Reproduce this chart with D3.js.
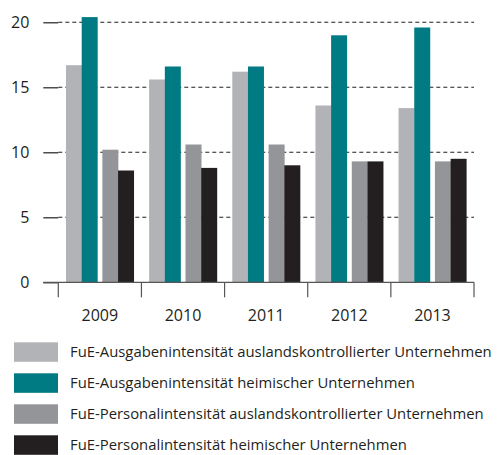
<!DOCTYPE html>
<html>
<head>
<meta charset="utf-8">
<script src="https://cdn.jsdelivr.net/npm/d3@7"></script>
<style>
  html, body { margin: 0; padding: 0; background: #fff; }
  svg { display: block; }
  text { font-family: "Open Sans", "DejaVu Sans", sans-serif; fill: #231f20; }
</style>
</head>
<body>
<svg id="chart" width="499" height="455"></svg>
<script>
const years = ["2009", "2010", "2011", "2012", "2013"];
const seriesNames = [
  "FuE-Ausgabenintensität auslandskontrollierter Unternehmen",
  "FuE-Ausgabenintensität heimischer Unternehmen",
  "FuE-Personalintensität auslandskontrollierter Unternehmen",
  "FuE-Personalintensität heimischer Unternehmen"
];
const ausgabenAusland = [16.7, 15.6, 16.2, 13.6, 13.4];
const ausgabenHeimisch = [20.4, 16.6, 16.6, 19.0, 19.6];
const personalAusland = [10.2, 10.6, 10.6, 9.3, 9.3];
const personalHeimisch = [8.6, 8.8, 9.0, 9.3, 9.5];
const yTicks = [0, 5, 10, 15, 20];
const colors = ["#b2b3b6", "#007a83", "#939598", "#231f20"];

const seriesValues = [ausgabenAusland, ausgabenHeimisch, personalAusland, personalHeimisch];

const svg = d3.select("#chart");

const y = d3.scaleLinear().domain([0, 20]).range([282.3, 22.3]);
const x = d3.scaleBand().domain(years).range([58.3, 474]).paddingInner(0).paddingOuter(0);
const bw = x.bandwidth();
const pad = 7.7;
const pair = d3.scaleBand().domain([0, 1]).range([pad, bw - pad]).paddingInner(0.137).paddingOuter(0);
const inPair = d3.scaleBand().domain([0, 1]).range([0, pair.bandwidth()]);

// gridlines (dashed)
const grid = svg.append("g");
yTicks.filter(t => t > 0).forEach(t => {
  grid.append("line")
    .attr("x1", 58.3).attr("x2", 474)
    .attr("y1", y(t)).attr("y2", y(t))
    .attr("stroke", "#231f20").attr("stroke-width", 1.1)
    .attr("stroke-dasharray", "4,3");
});

// y axis
const yAxis = d3.axisLeft(y).tickValues(yTicks).tickSize(15).tickPadding(14).tickFormat(d3.format("d"));
const yg = svg.append("g").attr("transform", "translate(58.3,0)").call(yAxis);
yg.select(".domain").remove();
yg.selectAll(".tick line").attr("stroke", "#231f20").attr("stroke-width", 1.2);
yg.selectAll(".tick text").style("font-size", "16px").attr("fill", "#3a3536")
  .style("font-family", "'Open Sans', sans-serif");

// bars
seriesValues.forEach((vals, si) => {
  const p = Math.floor(si / 2), k = si % 2;
  svg.append("g").selectAll("rect").data(vals).join("rect")
    .attr("x", (d, i) => x(years[i]) + pair(p) + inPair(k))
    .attr("width", inPair.bandwidth() + 0.3)
    .attr("y", d => y(d))
    .attr("height", d => y(0) - y(d))
    .attr("fill", colors[si]);
});

// baseline
svg.append("line")
  .attr("x1", 43.3).attr("x2", 474)
  .attr("y1", y(0)).attr("y2", y(0))
  .attr("stroke", "#555").attr("stroke-width", 1.2);

// x axis ticks at band boundaries
const bounds = years.map(yy => x(yy)).concat([x.range()[1]]);
svg.append("g").selectAll("line").data(bounds).join("line")
  .attr("x1", d => d).attr("x2", d => d)
  .attr("y1", y(0)).attr("y2", y(0) + 15)
  .attr("stroke", "#555").attr("stroke-width", 1.2);

svg.append("g").selectAll("text").data(years).join("text")
  .attr("x", d => x(d) + bw / 2)
  .attr("y", 321)
  .attr("text-anchor", "middle")
  .style("font-size", "16px")
  .attr("fill", "#3a3536")
  .text(d => d);

// legend
const leg = svg.append("g");
const rowY = i => 342.3 + i * 31;
seriesNames.forEach((name, i) => {
  leg.append("rect")
    .attr("x", 14).attr("y", rowY(i))
    .attr("width", 44).attr("height", 19.5)
    .attr("fill", colors[i]);
});
const texts = leg.selectAll("text.leg").data(seriesNames).join("text")
  .attr("class", "leg")
  .attr("x", 70)
  .attr("y", (d, i) => rowY(i) + 15)
  .style("font-size", "16px")
  .attr("fill", "#3a3536")
  .text(d => d);
// size the legend font so the widest line fits the space the reference uses
const maxW = d3.max(texts.nodes(), n => n.getComputedTextLength());
const fs = 16 * 422 / maxW;
texts.style("font-size", fs + "px");
</script>
</body>
</html>
